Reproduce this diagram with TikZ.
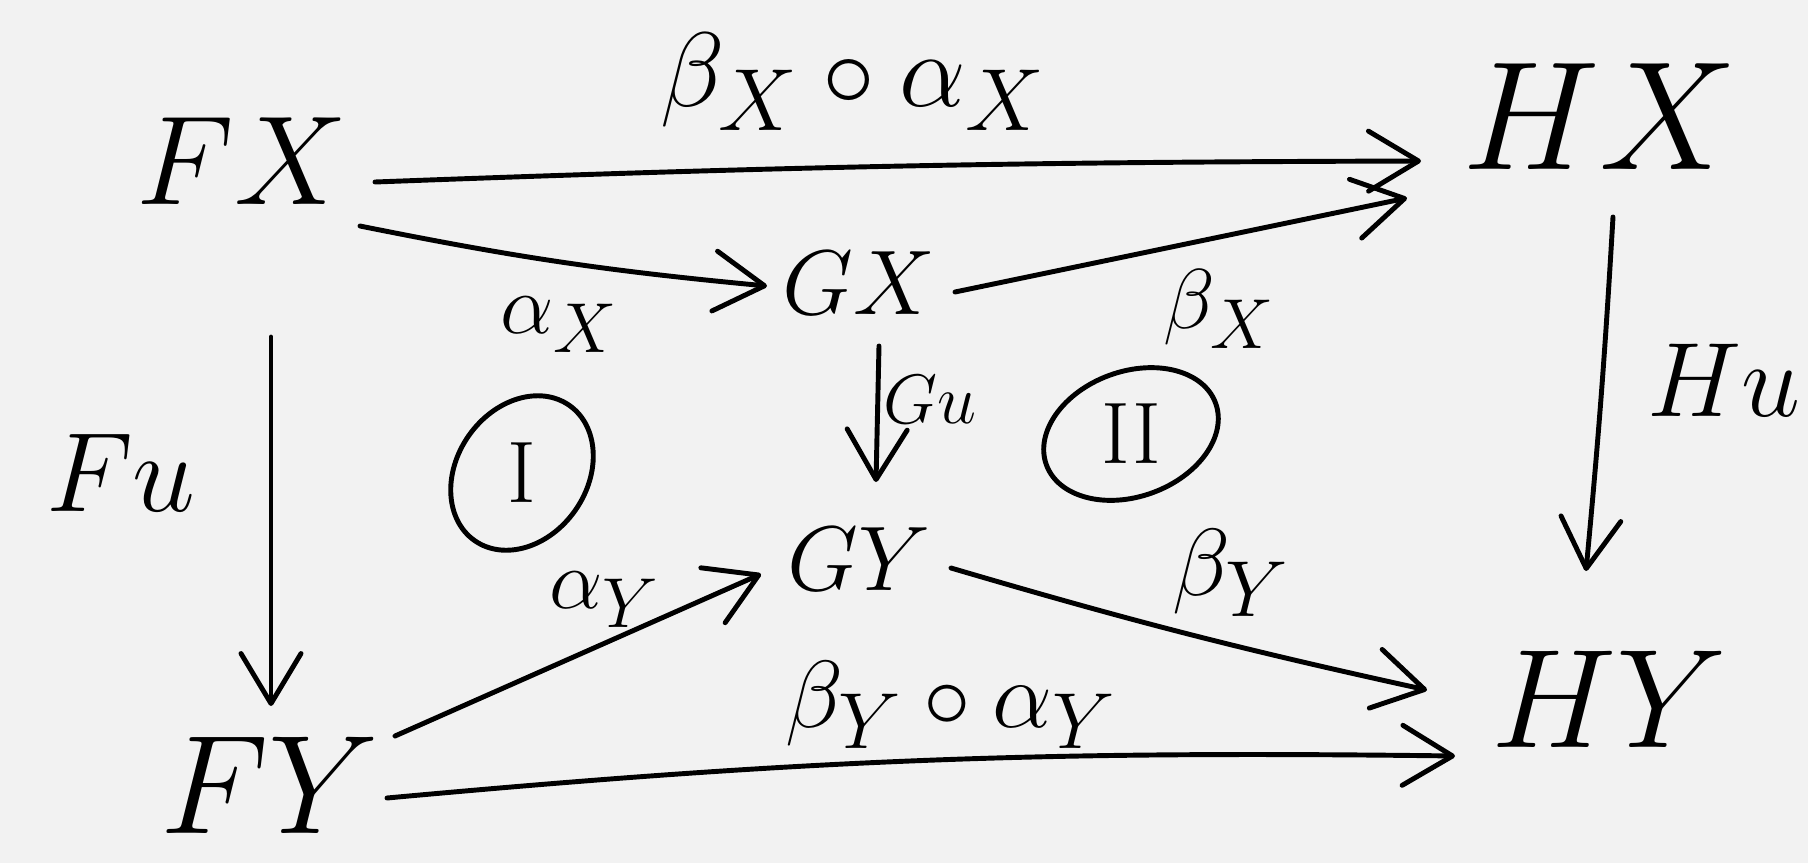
\documentclass[tikz,border=0pt]{standalone}
\usetikzlibrary{arrows.meta,shapes.geometric,calc}
\definecolor{bg}{RGB}{242,242,242}
\begin{document}
\begin{tikzpicture}[x=0.01cm,y=0.01cm,
  fs/.style={font=\Huge, inner sep=0pt, scale=#1, transform shape},
  arr/.style={line width=1.4pt, line cap=round,
    -{Straight Barb[length=5mm,width=6mm,round]}},
  circ/.style={draw, ellipse, line width=1.4pt, inner sep=0pt, font=\Huge}]
\fill[bg] (0,0) rectangle (1808,-863);
\useasboundingbox (0,0) rectangle (1808,-863);

% objects
\node[fs=1.45] (FX) at (242,-161) {$FX$};
\node[fs=1.77] (HX) at (1600,-117) {$HX$};
\node[fs=1.05] (GX) at (859,-283) {$GX$};
\node[fs=1.05] (GY) at (859,-559) {$GY$};
\node[fs=1.61] (FY) at (270,-785) {$FY$};
\node[fs=1.61] (HY) at (1609,-699) {$HY$};

% labels
\node[fs=1.21] (lbXaX) at (853,-82) {$\beta_X\circ\alpha_X$};
\node[fs=0.97] (laX) at (559,-325) {$\alpha_X$};
\node[fs=0.97] (lbX) at (1219,-309) {$\beta_X$};
\node[fs=1.29] (lFu) at (121,-473) {$Fu$};
\node[fs=1.21] (lHu) at (1724,-380) {$Hu$};
\node[fs=0.8] (lGu) at (930,-400) {$Gu$};
\node[fs=0.97] (laY) at (605,-600) {$\alpha_Y$};
\node[fs=1.09] (lbY) at (1231,-573) {$\beta_Y$};
\node[fs=1.09] (lbYaY) at (951,-705) {$\beta_Y\circ\alpha_Y$};

% circled regions
\node[circ, minimum width=1.65cm, minimum height=1.3cm, rotate=55] (cI) at (522,-473) {\rotatebox{-55}{I}};
\node[circ, minimum width=1.8cm, minimum height=1.25cm, rotate=20] (cII) at (1131,-434) {\rotatebox{-20}{II}};

% arrows
\draw[arr] ($(FX)+(133,-21)$) to[bend left=1] ($(HX)+(-179,-44)$);
\draw[arr] ($(FX)+(118,-65)$) to[bend right=3] ($(GX)+(-92,-3)$);
\draw[arr] ($(GX)+(96,-9)$) -- ($(HX)+(-193,-81)$);
\draw[arr] ($(HX)+(13,-100)$) to[bend left=1] ($(HY)+(-23,128)$);
\draw[arr] ($(FX)+(29,-176)$) -- ($(FY)+(1,79)$);
\draw[arr] ($(GX)+(20,-63)$) -- ($(GY)+(17,77)$);
\draw[arr] ($(FY)+(125,49)$) -- ($(GY)+(-98,-15)$);
\draw[arr] ($(GY)+(92,-9)$) to[bend right=2] ($(HY)+(-182,9)$);
\draw[arr] ($(FY)+(117,-13)$) to[bend left=3] ($(HY)+(-154,-57)$);
\end{tikzpicture}
\end{document}
